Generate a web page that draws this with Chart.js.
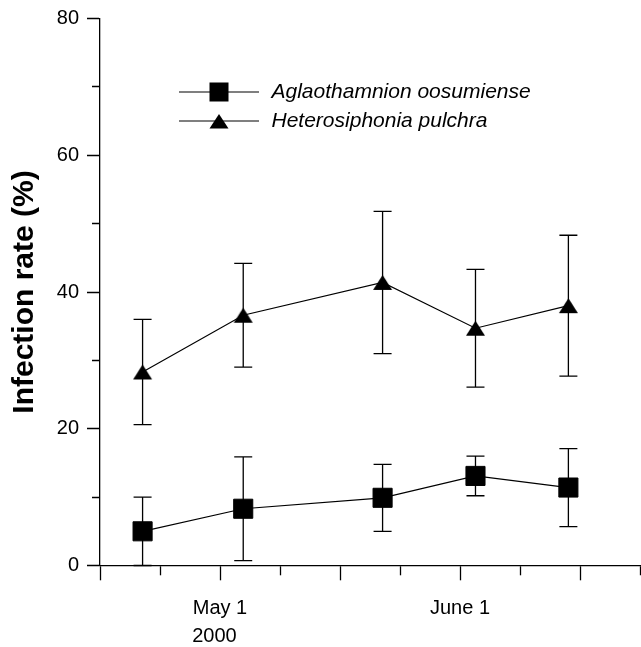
<!DOCTYPE html>
<html><head><meta charset="utf-8">
<script src="https://cdn.jsdelivr.net/npm/chart.js@4.4.1/dist/chart.umd.min.js"></script>
<style>html,body{margin:0;padding:0;background:#fff;}</style>
</head><body>
<canvas id="c" width="641" height="647"></canvas>
<script>
// ---- data ----
const sampleDates = ['2000-04-21', '2000-05-04', '2000-05-22', '2000-06-03', '2000-06-15'];
const seriesNames = ['Aglaothamnion oosumiense', 'Heterosiphonia pulchra'];
const aglaoMean = [5.0, 8.3, 9.9, 13.1, 11.4];
const aglaoErr  = [5.0, 7.6, 4.9, 2.9, 5.7];
const heteroMean = [28.3, 36.6, 41.4, 34.7, 38.0];
const heteroErr  = [7.7, 7.6, 10.4, 8.6, 10.3];
// x ticks in days since May 1, 2000 (half-month spacing)
const xTickDays = [-15.5, -7.75, 0, 7.75, 15.5, 23.25, 31, 38.75, 46.5, 54.25];
const xMajorDays = [-15.5, 0, 15.5, 31, 46.5];
const xTickLabels = {'0': ['May 1', '2000  '], '31': 'June 1'};
const yTickLabels = [0, 20, 40, 60, 80];

const FONT = 'Liberation Sans, Arial, Helvetica, sans-serif';
Chart.defaults.font.family = FONT;
Chart.defaults.color = '#000';

const origin = Date.UTC(2000, 4, 1);
const xs = sampleDates.map(s => (Date.parse(s) - origin) / 864e5);

// triangle marker image (bbox-centred)
function makeTriangle(w, h) {
  const c = document.createElement('canvas');
  c.width = w + 2; c.height = h + 2;
  const g = c.getContext('2d');
  g.fillStyle = '#000';
  g.beginPath(); g.moveTo(c.width / 2, 1); g.lineTo(w + 1, h + 1); g.lineTo(1, h + 1); g.closePath(); g.fill();
  return c;
}
const triMarker = makeTriangle(19, 15);

function makeLegendIcon(kind) {
  const c = document.createElement('canvas');
  c.width = 80; c.height = 22;
  const g = c.getContext('2d');
  g.strokeStyle = '#000'; g.lineWidth = 1.2;
  g.beginPath(); g.moveTo(0, 11); g.lineTo(80, 11); g.stroke();
  g.fillStyle = '#000';
  if (kind === 'rect') { g.fillRect(30.5, 1.5, 19, 19); }
  else { g.beginPath(); g.moveTo(40, 4); g.lineTo(49.5, 18.5); g.lineTo(30.5, 18.5); g.closePath(); g.fill(); }
  return c;
}
const legendIcons = [makeLegendIcon('rect'), makeLegendIcon('tri')];

const errorBars = {
  id: 'errorBars',
  afterDatasetsDraw(chart) {
    const {ctx, scales: {x, y}} = chart;
    ctx.save();
    ctx.strokeStyle = '#000'; ctx.lineWidth = 1.3;
    [[aglaoMean, aglaoErr], [heteroMean, heteroErr]].forEach(([m, e]) => {
      xs.forEach((d, i) => {
        const px = x.getPixelForValue(d);
        const top = y.getPixelForValue(m[i] + e[i]);
        const bot = y.getPixelForValue(Math.max(0, m[i] - e[i]));
        ctx.beginPath();
        ctx.moveTo(px, top); ctx.lineTo(px, bot);
        ctx.moveTo(px - 9, top); ctx.lineTo(px + 9, top);
        ctx.moveTo(px - 9, bot); ctx.lineTo(px + 9, bot);
        ctx.stroke();
      });
    });
    ctx.restore();
  }
};

const legendPlacer = {
  id: 'legendPlacer',
  afterLayout(chart) {
    const lg = chart.legend;
    if (!lg) return;
    lg.left = 169; lg.top = 73.5;
  }
};

new Chart(document.getElementById('c'), {
  type: 'line',
  data: {
    datasets: [
      {
        label: seriesNames[0],
        data: xs.map((x, i) => ({x, y: aglaoMean[i]})),
        borderColor: '#000', borderWidth: 1.2, tension: 0,
        pointStyle: 'rect', pointRadius: 13.5, pointBackgroundColor: '#000',
        pointBorderColor: '#000', pointBorderWidth: 1
      },
      {
        label: seriesNames[1],
        data: xs.map((x, i) => ({x, y: heteroMean[i]})),
        borderColor: '#000', borderWidth: 1.2, tension: 0,
        pointStyle: triMarker, pointRadius: 10, pointBackgroundColor: '#000',
        pointBorderColor: '#000', pointBorderWidth: 0
      }
    ]
  },
  options: {
    responsive: false, animation: false, devicePixelRatio: 1,
    layout: {autoPadding: false, padding: {top: 18.5, right: 1, left: 0, bottom: 0}},
    plugins: {
      tooltip: {enabled: false},
      legend: {
        position: 'chartArea', align: 'start',
        labels: {
          usePointStyle: true, pointStyleWidth: 84, padding: 8, color: '#000',
          font: {family: FONT, size: 21, style: 'italic'},
          generateLabels: chart => chart.data.datasets.map((ds, i) => ({
            text: ds.label, pointStyle: legendIcons[i], fillStyle: '#000', strokeStyle: '#000',
            fontColor: '#000', lineWidth: 0, hidden: false, datasetIndex: i
          }))
        }
      }
    },
    scales: {
      x: {
        type: 'linear', min: -15.5, max: 54.25,
        afterBuildTicks: s => { s.ticks = xTickDays.map(v => ({value: v})); },
        afterFit: s => { s.height = 81.5; },
        border: {display: true, color: '#000', width: 1.3},
        grid: {
          display: true, drawOnChartArea: false, drawTicks: true, tickLength: 29,
          tickColor: '#000', tickWidth: 1.3,
          tickBorderDash: ctx => (ctx.tick && xMajorDays.includes(ctx.tick.value)) ? [14, 100] : [9, 100]
        },
        ticks: {
          autoSkip: false, maxRotation: 0, minRotation: 0, padding: 0, color: '#000',
          font: {family: FONT, size: 20, lineHeight: 1.4},
          callback: v => (xTickLabels[String(v)] !== undefined ? xTickLabels[String(v)] : '')
        }
      },
      y: {
        min: 0, max: 80,
        afterFit: s => { s.width = 100; },
        border: {display: true, color: '#000', width: 1.3},
        grid: {
          display: true, drawOnChartArea: false, drawTicks: true, tickLength: 21,
          tickColor: '#000', tickWidth: 1.3,
          tickBorderDash: ctx => (ctx.tick && yTickLabels.includes(ctx.tick.value)) ? [0, 8, 13, 100] : [0, 13, 8, 100]
        },
        ticks: {
          stepSize: 10, padding: 0, color: '#000', font: {family: FONT, size: 20},
          callback: v => (yTickLabels.includes(v) ? String(v) : '')
        },
        title: {
          display: true, text: 'Infection rate (%)', color: '#000',
          font: {family: FONT, size: 30, weight: 'bold'}, padding: {top: 7, bottom: 0}
        }
      }
    }
  },
  plugins: [errorBars, legendPlacer]
});
</script>
</body></html>
